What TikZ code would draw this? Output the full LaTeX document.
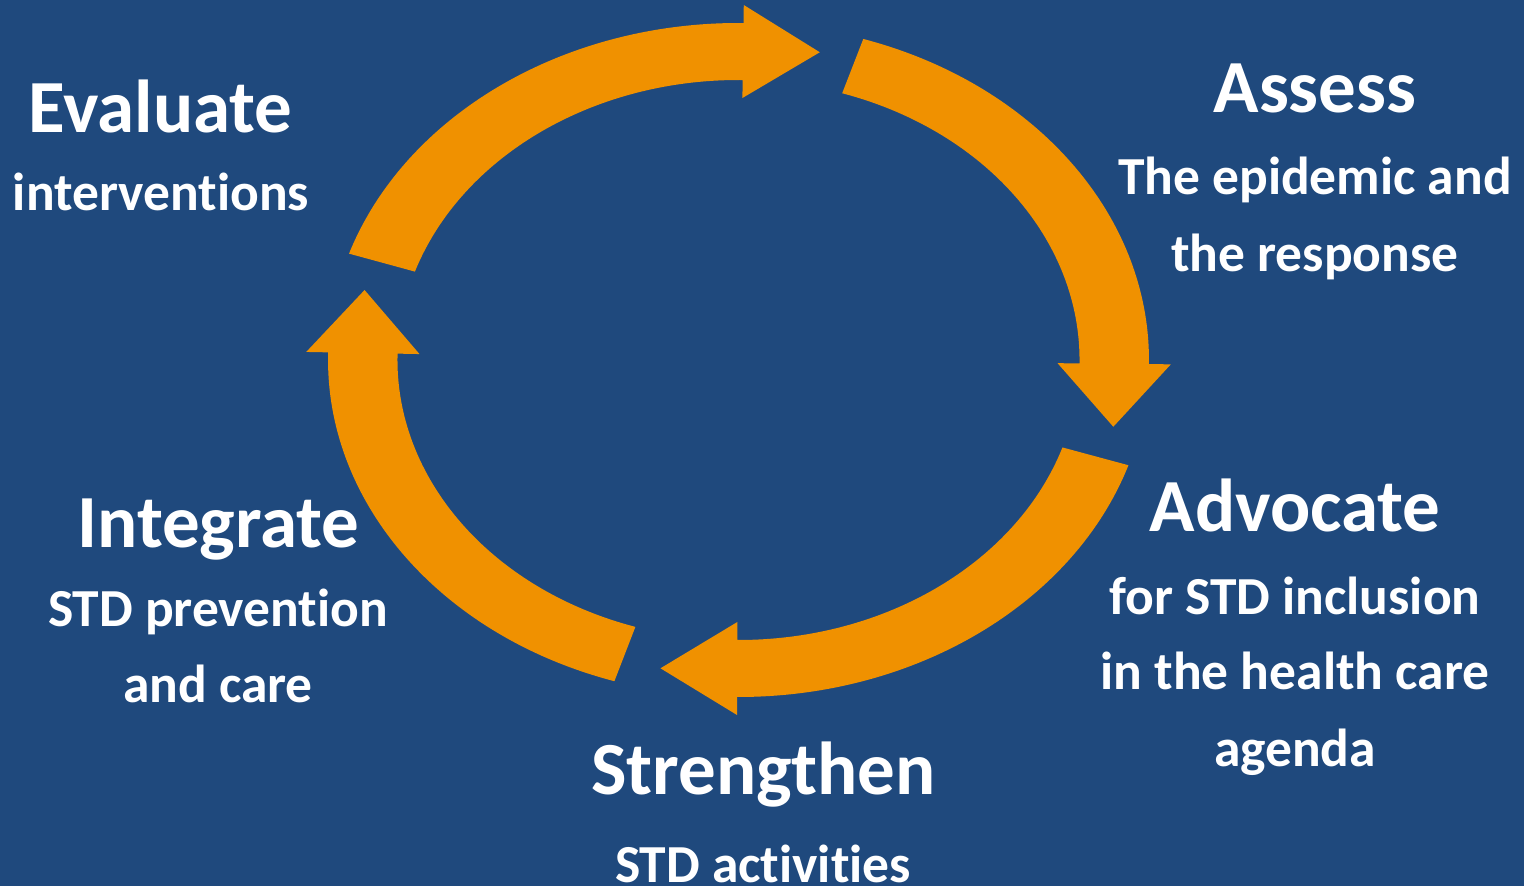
\documentclass[tikz,border=0pt]{standalone}
\usepackage{fontspec}
\setmainfont{Carlito}[Ligatures={NoCommon,NoRare,NoContextual}]
\usepackage{tikz}
\definecolor{bgblue}{HTML}{1F497D}
\definecolor{cycorange}{HTML}{F09100}

\begin{document}
\begin{tikzpicture}[line cap=round,line join=round,x=1pt,y=1pt,
  title/.style={text=white,font=\fontsize{75}{75}\selectfont\bfseries,anchor=base,inner sep=0pt},
  sub/.style={text=white,font=\fontsize{53.5}{53.5}\selectfont\bfseries,anchor=base,inner sep=0pt},
  flow/.style={fill=cycorange}]
\fill[bgblue] (0,0) rectangle (1524,886);
\useasboundingbox (0,0) rectangle (1524,886);
% cycle of four arrows
\begin{scope}[shift={(738.5,526)},xscale=1.218]
\foreach \s/\e in {161.6/89.3,72.3/-0.7,-18.2/-90.2,-107.6/-181.3}
  \fill[flow] (\s:337) arc[start angle=\s,end angle=\e,radius=337] -- (\e:355) -- ({\e-11.54}:314.9) -- (\e:262) -- (\e:280) arc[start angle=\e,end angle=\s,radius=280] -- cycle;
\end{scope}
% labels
\node[title] (evaluate) at (160.5,753) {Evaluate};
\node[sub] (evaluate1) at (161,675) {interventions};
\node[title] (assess) at (1315,773) {Assess};
\node[sub] (assess1) at (1315,691) {The epidemic and};
\node[sub] (assess2) at (1315,614) {the response};
\node[title] (advocate) at (1295,354) {Advocate};
\node[sub] (advocate1) at (1295,271) {for STD inclusion};
\node[sub] (advocate2) at (1295,196) {in the health care};
\node[sub] (advocate3) at (1295,119) {agenda};
\node[title] (strengthen) at (763.5,91) {Strengthen};
\node[sub] (strengthen1) at (763,3) {STD activities};
\node[title] (integrate) at (218.5,338) {Integrate};
\node[sub] (integrate1) at (218,259) {STD prevention};
\node[sub] (integrate2) at (218,183) {and care};
\end{tikzpicture}
\end{document}
